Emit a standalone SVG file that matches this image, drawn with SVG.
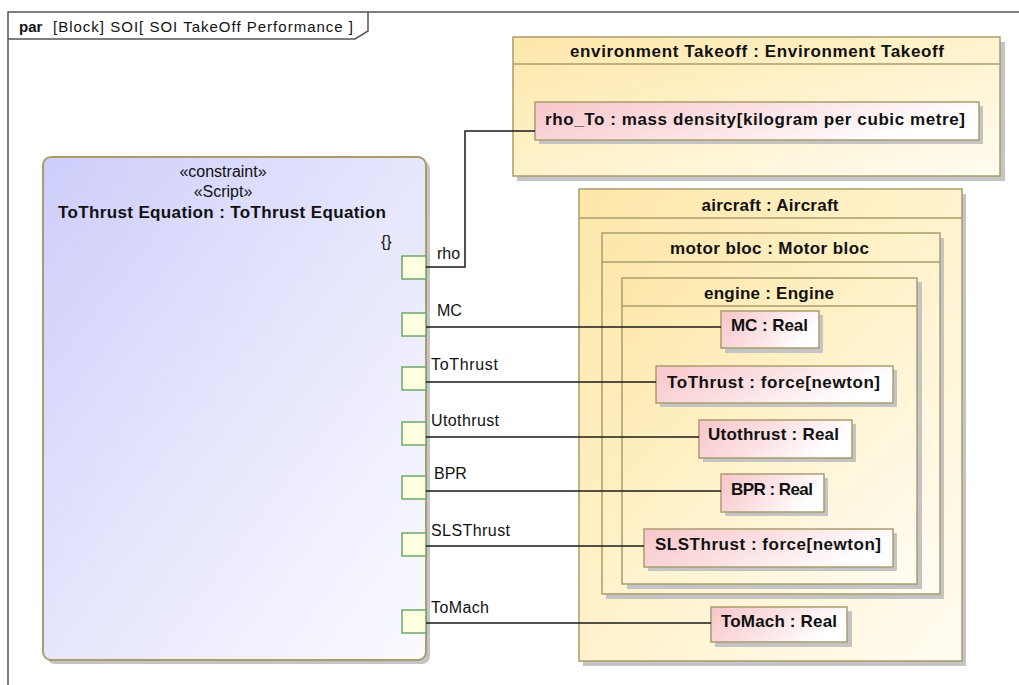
<svg xmlns="http://www.w3.org/2000/svg" width="1019" height="685" viewBox="0 0 1019 685">
<defs>
<linearGradient id="gCont" x1="0" y1="0" x2="1" y2="1">
<stop offset="0" stop-color="#fde7a9"/>
<stop offset="0.45" stop-color="#fff1c8"/>
<stop offset="1" stop-color="#fffcf2"/>
</linearGradient>
<linearGradient id="gPart" x1="0" y1="0" x2="1" y2="0.3">
<stop offset="0" stop-color="#f8c6ca"/>
<stop offset="0.5" stop-color="#fbe0e2"/>
<stop offset="1" stop-color="#ffffff"/>
</linearGradient>
<linearGradient id="gBlock" x1="0" y1="0" x2="1" y2="1">
<stop offset="0" stop-color="#cdcdfb"/>
<stop offset="0.5" stop-color="#e6e6fd"/>
<stop offset="1" stop-color="#fafaff"/>
</linearGradient>
<style>
.t{font-family:"Liberation Sans",Arial,sans-serif;fill:#111;}
.b{font-weight:bold;font-size:17px;}
.lbl{font-size:16px;}
.cont{fill:url(#gCont);stroke:#a99d6c;stroke-width:1.5;}
.part{fill:url(#gPart);stroke:#ab9d6c;stroke-width:1.5;}
.sh{fill:#c4c4c4;}
.hdr{stroke:#a99d6c;stroke-width:1.5;fill:none;}
.port{fill:#ffffe0;stroke:#6aa86a;stroke-width:1.5;}
.conn{stroke:#1a1a1a;stroke-width:1.5;fill:none;}
.frame{stroke:#555;stroke-width:1.5;fill:none;}
</style>
</defs>
<rect x="0" y="0" width="1019" height="685" fill="#ffffff"/>

<g id="frame">
<path class="frame" d="M8,685 V12 H1019"/>
<path class="frame" d="M8,39 H355 L368,31 V12"/>
<text class="t" x="19" y="32" font-size="15"><tspan font-weight="bold">par</tspan></text>
<text class="t" x="53" y="32" font-size="15" textLength="300" lengthAdjust="spacing">[Block] SOI[ SOI TakeOff Performance ]</text>
</g>

<g id="constraintBlock">
<rect x="47" y="161" width="383" height="503" rx="8" class="sh"/>
<rect x="43" y="157" width="383" height="503" rx="8" fill="url(#gBlock)" stroke="#a99d6c" stroke-width="2"/>
<text class="t" x="223" y="177" font-size="16" text-anchor="middle">«constraint»</text>
<text class="t" x="223" y="196.5" font-size="16" text-anchor="middle">«Script»</text>
<text class="t b" x="58" y="218" textLength="328" lengthAdjust="spacing">ToThrust Equation : ToThrust Equation</text>
<text class="t" x="381" y="246.5" font-size="16">{}</text>
</g>

<g id="ports">
<rect class="port" x="402" y="256" width="24" height="23"/>
<rect class="port" x="402" y="313" width="24" height="23"/>
<rect class="port" x="402" y="367" width="24" height="23"/>
<rect class="port" x="402" y="422" width="24" height="23"/>
<rect class="port" x="402" y="476" width="24" height="23"/>
<rect class="port" x="402" y="533" width="24" height="23"/>
<rect class="port" x="402" y="610" width="24" height="23"/>
<text class="t lbl" x="437" y="259">rho</text>
<text class="t lbl" x="437" y="316">MC</text>
<text class="t lbl" x="431" y="370" textLength="67" lengthAdjust="spacing">ToThrust</text>
<text class="t lbl" x="431" y="425.5" textLength="68" lengthAdjust="spacing">Utothrust</text>
<text class="t lbl" x="434" y="479">BPR</text>
<text class="t lbl" x="431" y="536" textLength="79" lengthAdjust="spacing">SLSThrust</text>
<text class="t lbl" x="431" y="612.5" textLength="58" lengthAdjust="spacing">ToMach</text>
</g>

<g id="environmentTakeoff">
<rect x="517" y="42" width="488" height="139" class="sh"/>
<rect x="513" y="37" width="487" height="139" class="cont"/>
<line class="hdr" x1="513" y1="64" x2="1000" y2="64"/>
<text class="t b" x="757" y="56.5" text-anchor="middle" textLength="374" lengthAdjust="spacing">environment Takeoff : Environment Takeoff</text>
</g>
<g id="rho_To">
<rect x="539" y="106" width="444" height="38" class="sh"/>
<rect x="535" y="102" width="444" height="38" class="part"/>
<text class="t b" x="545" y="125" textLength="420" lengthAdjust="spacing">rho_To : mass density[kilogram per cubic metre]</text>
</g>

<g id="aircraft">
<rect x="583" y="194" width="383" height="472" class="sh"/>
<rect x="579" y="189" width="383" height="472" class="cont"/>
<line class="hdr" x1="579" y1="218" x2="962" y2="218"/>
<text class="t b" x="770" y="210.5" text-anchor="middle" textLength="137" lengthAdjust="spacing">aircraft : Aircraft</text>
</g>
<g id="motorBloc">
<rect x="606" y="238" width="338" height="361" class="sh"/>
<rect x="602" y="233" width="338" height="361" class="cont"/>
<line class="hdr" x1="602" y1="262" x2="940" y2="262"/>
<text class="t b" x="769.5" y="254" text-anchor="middle" textLength="199" lengthAdjust="spacing">motor bloc : Motor bloc</text>
</g>
<g id="engine">
<rect x="627" y="282" width="295" height="307" class="sh"/>
<rect x="622" y="278" width="295" height="306" class="cont"/>
<line class="hdr" x1="622" y1="306" x2="917" y2="306"/>
<text class="t b" x="769" y="298.5" text-anchor="middle" textLength="130" lengthAdjust="spacing">engine : Engine</text>
</g>

<g id="MC">
<rect x="725" y="315" width="98" height="38" class="sh"/>
<rect x="721" y="311" width="98" height="37" class="part"/>
<text class="t b" x="731" y="330.5" textLength="77" lengthAdjust="spacing">MC : Real</text>
</g>
<g id="ToThrust">
<rect x="660" y="370" width="237" height="37" class="sh"/>
<rect x="656" y="366" width="237" height="37" class="part"/>
<text class="t b" x="667" y="387.5" textLength="213" lengthAdjust="spacing">ToThrust : force[newton]</text>
</g>
<g id="Utothrust">
<rect x="703" y="424" width="153" height="38" class="sh"/>
<rect x="699" y="420" width="153" height="38" class="part"/>
<text class="t b" x="708" y="440" textLength="131" lengthAdjust="spacing">Utothrust : Real</text>
</g>
<g id="BPR">
<rect x="725" y="478" width="103" height="38" class="sh"/>
<rect x="721" y="474" width="103" height="38" class="part"/>
<text class="t b" x="731" y="495" textLength="82" lengthAdjust="spacing">BPR : Real</text>
</g>
<g id="SLSThrust">
<rect x="648" y="533" width="249" height="38" class="sh"/>
<rect x="644" y="529" width="249" height="38" class="part"/>
<text class="t b" x="655" y="550" textLength="226" lengthAdjust="spacing">SLSThrust : force[newton]</text>
</g>
<g id="ToMach">
<rect x="715" y="611" width="137" height="36" class="sh"/>
<rect x="711" y="607" width="136" height="35" class="part"/>
<text class="t b" x="721" y="626.5" textLength="116" lengthAdjust="spacing">ToMach : Real</text>
</g>

<g id="connectors">
<polyline class="conn" points="426,267 465,267 465,131 535,131"/>
<line class="conn" x1="426" y1="327" x2="721" y2="327"/>
<line class="conn" x1="426" y1="382" x2="656" y2="382"/>
<line class="conn" x1="426" y1="437" x2="699" y2="437"/>
<line class="conn" x1="426" y1="491" x2="721" y2="491"/>
<line class="conn" x1="426" y1="546" x2="644" y2="546"/>
<line class="conn" x1="426" y1="623" x2="711" y2="623"/>
</g>
</svg>
